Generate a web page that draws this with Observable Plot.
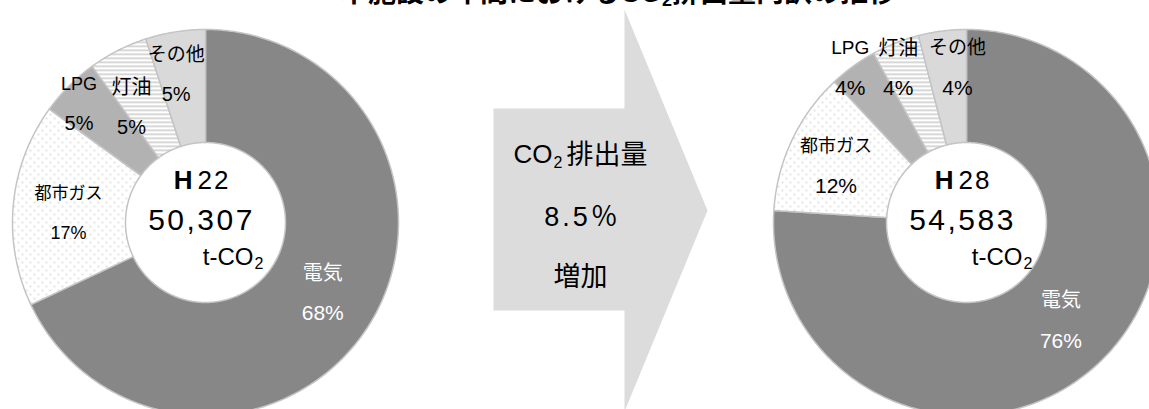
<!DOCTYPE html>
<html><head><meta charset="utf-8">
<script src="https://cdn.jsdelivr.net/npm/d3@7"></script>
<script src="https://cdn.jsdelivr.net/npm/@observablehq/plot@0.6"></script>
<style>
html,body{margin:0;padding:0;background:#fff;overflow:hidden;}
#wrap{position:relative;width:1149px;height:409px;}
#title{position:absolute;top:-21px;left:340px;white-space:nowrap;font:bold 28px/28px "Liberation Sans","Noto Sans CJK JP",sans-serif;color:#000;z-index:2;}
#title sub{font-size:18px;vertical-align:-4px;line-height:0;}
</style></head><body>
<div id="wrap"><div id="title">本施設の年間における<span>CO<sub>2</sub></span>排出量内訳の推移</div><div id="chart"></div></div>
<script>
// ---- data ----
const categories = ["電気", "都市ガス", "LPG", "灯油", "その他"];
const years = ["H22", "H28"];
const totals = ["50,307", "54,583"];
const sharesH22 = [68, 17, 5, 5, 5];
const sharesH28 = [76, 12, 4, 4, 4];
const unitText = ["t-CO", "2"];
const changeTexts = ["CO", "2", "排出量", "8.5％", "増加"];

// ---- layout / style ----
const W = 1149, H = 409;
const centers = {H22: [205, 222], H28: [966, 222]};
const unitDx = {H22: 48, H28: 56};
const R_IN = 80, R_OUT = 193;
const fills = ["#878787", "url(#dots)", "#b2b2b2", "url(#stripes)", "#d9d9d9"];
const nudges = {
  H22: [[2, -2], [-1, 4], [-30, -22], [-12, 7], [-8, -13]],
  H28: [[1, -1], [-7, 2], [-36, -44], [-18, -27], [8, -19]]
};
const nameSizes = {H22: [20, 17, 18, 20, 19], H28: [20, 18, 19, 20, 19]};
const pctSizes = {H22: [21, 18, 20, 20, 20], H28: [21, 21, 21, 21, 21]};
const arrowShape = [[493,108],[624,108],[624,9],[707,210],[624,411],[624,310],[493,310],[493,108]].map(([x,y])=>({x,y}));
const arrowTextPos = [
  {x: 552, y: 162, anchor: "end", size: 26},
  {x: 553, y: 167, anchor: "start", size: 16},
  {x: 566, y: 163, anchor: "start", size: 27},
  {x: 582, y: 225, anchor: "middle", size: 27},
  {x: 580, y: 285, anchor: "middle", size: 27}
];

// ---- geometry from data ----
const rings = [];
const labels = [];
years.forEach((yr, k) => {
  const shares = k ? sharesH28 : sharesH22;
  const total = d3.sum(shares);
  const [cx, cy] = centers[yr];
  let cum = 0;
  shares.forEach((v, i) => {
    const a0 = cum / total * 2 * Math.PI, a1 = (cum + v) / total * 2 * Math.PI;
    cum += v;
    const n = Math.max(2, Math.ceil((a1 - a0) / (Math.PI / 360)));
    const id = yr + "-" + i;
    const pts = [];
    for (let j = 0; j <= n; j++) { const a = a0 + (a1 - a0) * j / n; pts.push([cx + R_OUT * Math.sin(a), cy - R_OUT * Math.cos(a)]); }
    for (let j = n; j >= 0; j--) { const a = a0 + (a1 - a0) * j / n; pts.push([cx + R_IN * Math.sin(a), cy - R_IN * Math.cos(a)]); }
    pts.push(pts[0]);
    pts.forEach(p => rings.push({id, x: p[0], y: p[1], fill: fills[i]}));
    const am = (a0 + a1) / 2, rm = (R_IN + R_OUT) / 2;
    const [dx, dy] = nudges[yr][i];
    labels.push({
      cat: categories[i], pct: v + "%",
      x: cx + rm * Math.sin(am) + dx, y: cy - rm * Math.cos(am) + dy,
      color: i === 0 ? "#ffffff" : "#000000",
      nameSize: nameSizes[yr][i], pctSize: pctSizes[yr][i]
    });
  });
});
const centerData = years.map((yr, k) => ({yr, num: totals[k], x: centers[yr][0], y: centers[yr][1], ux: centers[yr][0] + unitDx[yr]}));
const arrowTexts = changeTexts.map((t, i) => ({t, ...arrowTextPos[i]}));
const arrowMark = anchor => Plot.text(arrowTexts.filter(d => d.anchor === anchor), {
  x: "x", y: "y", text: "t", textAnchor: anchor, lineAnchor: "bottom",
  fontSize: d => d.size, fill: "#000", ariaDescription: "arrow-" + anchor
});

const font = "'Liberation Sans','Noto Sans CJK JP',sans-serif";
const chart = Plot.plot({
  width: W, height: H, margin: 0,
  x: {domain: [0, W], range: [0, W], axis: null},
  y: {domain: [0, H], range: [0, H], axis: null},
  color: {type: "identity"},
  style: {fontFamily: font, background: "#fff", overflow: "hidden"},
  marks: [
    Plot.line(arrowShape, {x: "x", y: "y", fill: "#dcdcdc", stroke: "none"}),
    Plot.line(rings, {x: "x", y: "y", z: "id", fill: d => d.fill, stroke: "#c4c4c4", strokeWidth: 1.5, strokeLinejoin: "round"}),
    Plot.text(labels, {x: "x", y: "y", dy: -20, text: "cat", fill: d => d.color, fontSize: d => d.nameSize}),
    Plot.text(labels, {x: "x", y: "y", dy: 20, text: "pct", fill: d => d.color, fontSize: d => d.pctSize}),
    Plot.text(centerData, {x: "x", y: "y", text: d => d.yr[0], dx: -13, dy: -34, textAnchor: "end", lineAnchor: "bottom", fontSize: 26, fontWeight: "bold", fill: "#000"}),
    Plot.text(centerData, {x: "x", y: "y", text: d => d.yr.slice(1), dx: -8, dy: -34, textAnchor: "start", lineAnchor: "bottom", fontSize: 26, fill: "#000", ariaDescription: "sp2"}),
    Plot.text(centerData, {x: "x", y: "y", text: "num", dx: -4, dy: 7, lineAnchor: "bottom", fontSize: 30, fill: "#000", ariaDescription: "sp3"}),
    Plot.text(centerData, {x: "ux", y: "y", text: () => unitText[0], dy: 42, textAnchor: "end", lineAnchor: "bottom", fontSize: 24, fill: "#000"}),
    Plot.text(centerData, {x: "ux", y: "y", text: () => unitText[1], dx: 1, dy: 46, textAnchor: "start", lineAnchor: "bottom", fontSize: 16, fill: "#000"}),
    arrowMark("end"),
    arrowMark("start"),
    arrowMark("middle")
  ]
});

const svg = d3.select(chart);
const defs = svg.insert("defs", ":first-child");
const dots = defs.append("pattern").attr("id", "dots").attr("patternUnits", "userSpaceOnUse").attr("width", 8).attr("height", 8);
dots.append("rect").attr("width", 8).attr("height", 8).attr("fill", "#fff");
dots.append("circle").attr("cx", 2).attr("cy", 2).attr("r", 0.9).attr("fill", "#d6d6d6");
dots.append("circle").attr("cx", 6).attr("cy", 6).attr("r", 0.9).attr("fill", "#d6d6d6");
const stripes = defs.append("pattern").attr("id", "stripes").attr("patternUnits", "userSpaceOnUse").attr("width", 8).attr("height", 4);
stripes.append("rect").attr("width", 8).attr("height", 4).attr("fill", "#fff");
stripes.append("rect").attr("y", 1).attr("width", 8).attr("height", 1.5).attr("fill", "#cacaca");
svg.selectAll('g[aria-description="sp2"] text').attr("letter-spacing", 2);
svg.selectAll('g[aria-description="sp3"] text').attr("letter-spacing", 2.5);
svg.selectAll('g[aria-description="arrow-middle"] text').filter((d, i, n) => n[i].textContent.includes("8.5")).attr("letter-spacing", 3);
document.getElementById("chart").appendChild(chart);
</script>
</body></html>
